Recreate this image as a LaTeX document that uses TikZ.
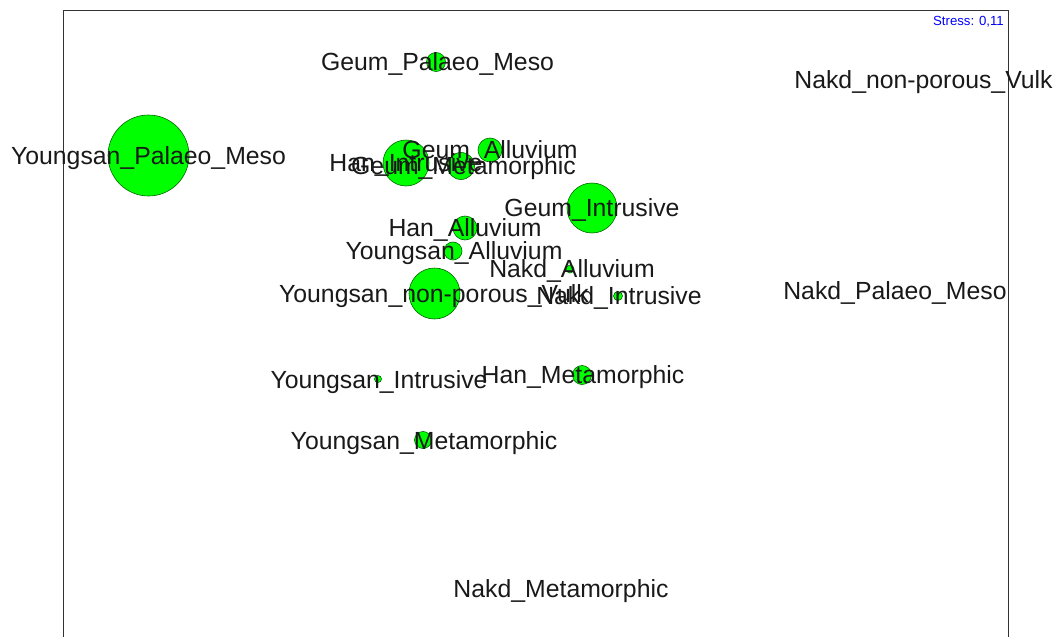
\documentclass[tikz,border=0pt]{standalone}
\usepackage{fontspec}
\setmainfont{Liberation Sans}
\usetikzlibrary{positioning}

\tikzset{
  site/.style={draw=green!40!black,fill=green,line width=0.6pt},
  lbl/.style={font=\fontsize{24.8}{26}\selectfont,inner sep=0pt,
    text height=17.8pt,text depth=0pt,text=black!90}
}

\begin{document}
\begin{tikzpicture}[x=1pt,y=-1pt]
  \useasboundingbox (0,0) rectangle (1061,637);
  % Frame (open at the bottom edge)
  \draw[line width=1pt,black!80] (63,660) -- (63,10) -- (1008,10) -- (1008,660);
  % Stress value
  \node[font=\fontsize{13.2}{14}\selectfont,text=blue,anchor=east,inner sep=0pt] (stress) at (1004,21.5) {Stress: 0,11};
  % Bubbles (size of each site)
  \draw[site] (148.5,155.5) circle (40.5);
  \draw[site] (436,62) circle (9.5);
  \draw[site] (406,163) circle (23);
  \draw[site] (461,166) circle (13.5);
  \draw[site] (490,150) circle (12);
  \draw[site] (592,208) circle (25);
  \draw[site] (465,228) circle (12);
  \draw[site] (453,251) circle (9);
  \draw[site] (570,269) circle (4);
  \draw[site] (434.5,293.5) circle (25.5);
  \draw[site] (618,296) circle (4.5);
  \draw[site] (582,375) circle (9.5);
  \draw[site] (378,379) circle (3.5);
  \draw[site] (423,440) circle (8.5);
  % Labels
  \node[lbl] (geumpm)   at (437.5,62)  {Geum\_Palaeo\_Meso};
  \node[lbl] (nakdnpv)  at (923.5,80)  {Nakd\_non-porous\_Vulk};
  \node[lbl] (youngpm)  at (148.5,155.5) {Youngsan\_Palaeo\_Meso};
  \node[lbl] (hanint)   at (406,163)   {Han\_Intrusive};
  \node[lbl] (geummet)  at (463.5,166) {Geum\_Metamorphic};
  \node[lbl] (geumall)  at (490,150)   {Geum\_Alluvium};
  \node[lbl] (geumint)  at (592,208)   {Geum\_Intrusive};
  \node[lbl] (hanall)   at (465,228)   {Han\_Alluvium};
  \node[lbl] (youngall) at (454,251)   {Youngsan\_Alluvium};
  \node[lbl] (nakdall)  at (572,269)   {Nakd\_Alluvium};
  \node[lbl] (youngnpv) at (434,294)   {Youngsan\_non-porous\_Vulk};
  \node[lbl] (nakdint)  at (619,296)   {Nakd\_Intrusive};
  \node[lbl] (nakdpm)   at (895,291)   {Nakd\_Palaeo\_Meso};
  \node[lbl] (hanmet)   at (583,375)   {Han\_Metamorphic};
  \node[lbl] (youngint) at (379,380)   {Youngsan\_Intrusive};
  \node[lbl] (youngmet) at (424,441)   {Youngsan\_Metamorphic};
  \node[lbl] (nakdmet)  at (561,589)   {Nakd\_Metamorphic};
\end{tikzpicture}
\end{document}
